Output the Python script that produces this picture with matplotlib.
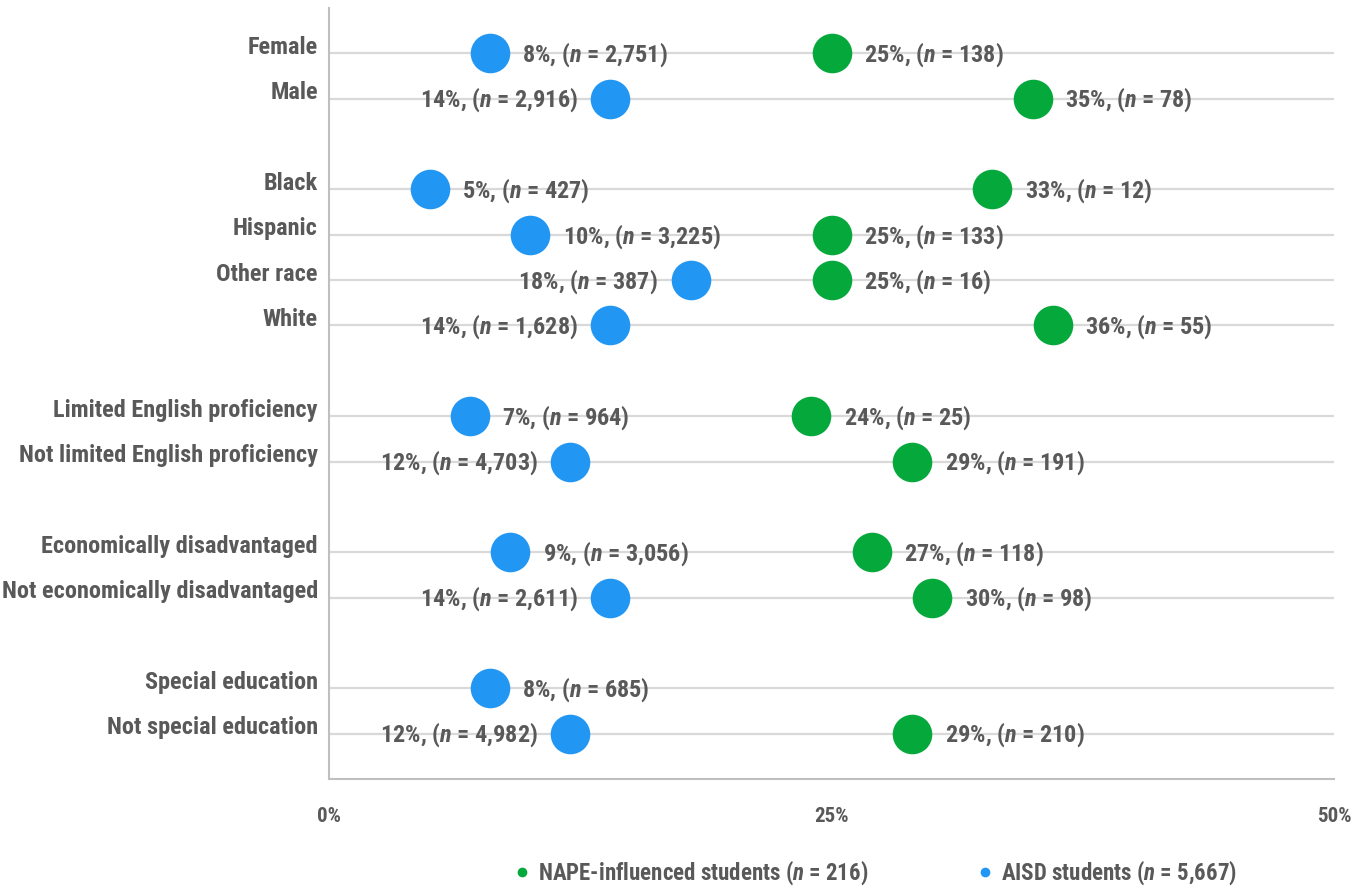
import numpy as np
import matplotlib
matplotlib.use("Agg")
import matplotlib.pyplot as plt
import matplotlib.transforms as mtransforms
from matplotlib.lines import Line2D

plt.rcParams['font.family'] = ['Roboto Condensed', 'DejaVu Sans']
plt.rcParams['mathtext.fontset'] = 'custom'
plt.rcParams['mathtext.it'] = 'Roboto Condensed:italic:bold'
plt.rcParams['mathtext.rm'] = 'Roboto Condensed:bold'

categories = ["Female", "Male",
              "Black", "Hispanic", "Other race", "White",
              "Limited English proficiency", "Not limited English proficiency",
              "Economically disadvantaged", "Not economically disadvantaged",
              "Special education", "Not special education"]
groups = [0, 0, 1, 1, 1, 1, 2, 2, 3, 3, 4, 4]

aisd_pct = [8, 14, 5, 10, 18, 14, 7, 12, 9, 14, 8, 12]
aisd_n = [2751, 2916, 427, 3225, 387, 1628, 964, 4703, 3056, 2611, 685, 4982]
nape_pct = [25, 35, 33, 25, 25, 36, 24, 29, 27, 30, None, 29]
nape_n = [138, 78, 12, 133, 16, 55, 25, 191, 118, 98, None, 210]

nape_total = 216
aisd_total = 5667

blue = '#2196f3'
green = '#05a83b'
text_col = '#595959'

fig = plt.figure(figsize=(13.67, 8.90), dpi=100)
ax = fig.add_axes([0.2407, 0.1247, 0.7352, 0.8663])

ypos = [i + g for i, g in enumerate(groups)]

ax.hlines(ypos, 0, 50, color='#d9d9d9', lw=1.6, zorder=1)

def label(x, y, pct, n, side):
    txt = f"{pct}%, ($n$ = {n:,})"
    dx = 23.5 if side == 'right' else -23.5
    ax.annotate(txt, (x, y), xytext=(dx, -1), textcoords='offset points',
                ha='left' if side == 'right' else 'right', va='center',
                fontsize=17.5, color=text_col, fontweight='bold', zorder=4)

for y, p, n in zip(ypos, aisd_pct, aisd_n):
    ax.plot(p, y, 'o', ms=28.5, color=blue, mec='none', zorder=3)
    label(p, y, p, n, 'left' if p > 10 else 'right')

for y, p, n in zip(ypos, nape_pct, nape_n):
    if p is None:
        continue
    ax.plot(p, y, 'o', ms=28.5, color=green, mec='none', zorder=3)
    label(p, y, p, n, 'right')

ax.set_xlim(0, 50)
ax.set_ylim(16, -1)
ax.set_xticks([0, 25, 50])
ax.set_xticklabels(['0%', '25%', '50%'])
ax.set_yticks(ypos)
ax.set_yticklabels(categories)
ax.tick_params(axis='both', length=0, colors=text_col)
ax.tick_params(axis='y', pad=8, labelsize=17.5)
ax.tick_params(axis='x', pad=20, labelsize=15)
for t in ax.get_yticklabels():
    t.set_fontweight('bold')
    t.set_transform(t.get_transform() +
                    mtransforms.ScaledTranslation(0, 6 / 72, fig.dpi_scale_trans))
for t in ax.get_xticklabels():
    t.set_fontweight('bold')

for s in ['top', 'right']:
    ax.spines[s].set_visible(False)
for s in ['left', 'bottom']:
    ax.spines[s].set_color('#bfbfbf')
    ax.spines[s].set_linewidth(1.5)

handles = [Line2D([], [], marker='o', ls='none', ms=7, color=green, mec='none'),
           Line2D([], [], marker='o', ls='none', ms=7, color=blue, mec='none')]
names = [f"NAPE-influenced students ($n$ = {nape_total})",
         f"AISD students ($n$ = {aisd_total:,})"]
leg = fig.legend(handles, names, loc='center', bbox_to_anchor=(0.639, 0.019),
                 ncol=2, frameon=False, fontsize=16.5, handletextpad=0.2,
                 columnspacing=4.6, handlelength=1.0)
for t in leg.get_texts():
    t.set_color(text_col)
    t.set_fontweight('bold')

fig.savefig('out.png', dpi=100)
